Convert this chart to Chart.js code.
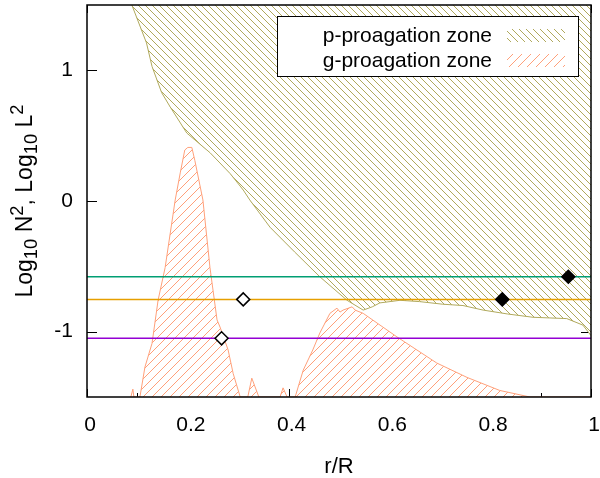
<!DOCTYPE html>
<html>
<head>
<meta charset="utf-8">
<script src="https://cdn.jsdelivr.net/npm/chart.js@4"></script>
<style>
  html, body { margin: 0; padding: 0; background: #fff; }
  #wrap { width: 600px; height: 478px; }
</style>
</head>
<body>
<div id="wrap"><canvas id="zones" width="600" height="478"></canvas></div>
<script>
// axis ticks
const xTicks = [0, 0.2, 0.4, 0.6, 0.8, 1];
const xMinorTicks = [0.1, 0.3, 0.5, 0.7, 0.9];
const yTicks = [-1, 0, 1];

// p-propagation zone boundary (region above it is filled)
const pZoneX = [0.089, 0.118, 0.129, 0.148, 0.165, 0.198, 0.244, 0.284, 0.31, 0.323, 0.363, 0.412, 0.462, 0.516, 0.548, 0.566, 0.581, 0.621, 0.66, 0.706, 0.746, 0.786, 0.835, 0.885, 0.952, 0.984, 1.0];
const pZoneY = [1.5, 1.21, 1.03, 0.83, 0.72, 0.52, 0.37, 0.21, 0.084, 0.008, -0.20, -0.39, -0.58, -0.76, -0.835, -0.81, -0.78, -0.76, -0.77, -0.79, -0.80, -0.835, -0.865, -0.89, -0.90, -0.95, -1.03];

// g-propagation zone boundary (region below it is filled)
const gZoneX = [0.087, 0.091, 0.093, 0.105, 0.115, 0.129, 0.141, 0.155, 0.175, 0.185, 0.194, 0.200, 0.208, 0.214, 0.230, 0.244, 0.258, 0.264, 0.280, 0.290, 0.304,
  0.319, 0.327, 0.341, 0.383, 0.389, 0.397,
  0.413, 0.429, 0.448, 0.462, 0.482, 0.496, 0.502, 0.508, 0.526, 0.532, 0.548, 0.615, 0.694, 0.754, 0.819, 0.879, 1.0];
const gZoneY = [-1.5, -1.44, -1.5, -1.5, -1.27, -1.09, -0.76, -0.51, 0.008, 0.215, 0.39, 0.41, 0.41, 0.31, 0.008, -0.51, -0.91, -0.965, -1.14, -1.32, -1.5,
  -1.5, -1.356, -1.5, -1.5, -1.43, -1.5,
  -1.5, -1.295, -1.14, -1.01, -0.86, -0.82, -0.85, -0.835, -0.81, -0.835, -0.86, -1.04, -1.24, -1.35, -1.45, -1.5, -1.5];

// horizontal frequency levels
const levelValues = [-0.58, -0.753, -1.051];

// mode markers
const openX = [0.267, 0.31];
const openY = [-1.051, -0.753];
const filledX = [0.824, 0.955];
const filledY = [-0.753, -0.58];

const legendLabels = ['p-proagation zone', 'g-proagation zone'];

const levelColors = ['#009e73', '#e69f00', '#9400d3'];
const pColor = '#b0a95c';
const gColor = '#ffa07a';
const FONT = '"Liberation Sans", Arial, sans-serif';

function hatch(color, size, dir) {
  const c = document.createElement('canvas');
  c.width = c.height = size;
  const g = c.getContext('2d');
  g.fillStyle = '#fff';
  g.fillRect(0, 0, size, size);
  g.strokeStyle = color;
  g.lineWidth = 1;
  g.beginPath();
  for (const o of [-size, 0, size]) {
    if (dir === 'down') { g.moveTo(o, 0); g.lineTo(o + size, size); }
    else { g.moveTo(o, size); g.lineTo(o + size, 0); }
  }
  g.stroke();
  return g.createPattern(c, 'repeat');
}

const pPattern = hatch(pColor, 7, 'down');
const gPattern = hatch(gColor, 9, 'up');

const zip = (xs, ys) => xs.map((x, i) => ({ x, y: ys[i] }));

const noPad = s => { s.paddingLeft = 0; s.paddingRight = 0; s.paddingTop = 0; s.paddingBottom = 0; };

// inward ticks on all four sides, under the fills
const tickMarks = {
  id: 'tickMarks',
  beforeDatasetsDraw(chart) {
    const { ctx, chartArea: a, scales: { x, y } } = chart;
    ctx.save();
    ctx.strokeStyle = '#000';
    ctx.lineWidth = 1;
    ctx.beginPath();
    const vt = (v, len) => {
      const px = Math.round(x.getPixelForValue(v)) + 0.5;
      ctx.moveTo(px, a.bottom); ctx.lineTo(px, a.bottom - len);
      ctx.moveTo(px, a.top); ctx.lineTo(px, a.top + len);
    };
    xTicks.forEach(v => vt(v, 8));
    xMinorTicks.forEach(v => vt(v, 4));
    yTicks.forEach(v => {
      const py = Math.round(y.getPixelForValue(v)) + 0.5;
      ctx.moveTo(a.left, py); ctx.lineTo(a.left + 10, py);
      ctx.moveTo(a.right, py); ctx.lineTo(a.right - 10, py);
    });
    ctx.stroke();
    ctx.restore();
  }
};

const frameAndLegend = {
  id: 'frameAndLegend',
  afterDatasetsDraw(chart) {
    const { ctx, chartArea: a } = chart;
    ctx.save();
    ctx.strokeStyle = '#000';
    ctx.lineWidth = 1.5;
    ctx.strokeRect(a.left, a.top, a.right - a.left, a.bottom - a.top);

    // legend box
    ctx.fillStyle = '#fff';
    ctx.fillRect(277.5, 16.5, 301, 60);
    ctx.lineWidth = 1;
    ctx.strokeRect(277.5, 16.5, 301, 60);
    ctx.font = '21px ' + FONT;
    ctx.textAlign = 'right';
    ctx.textBaseline = 'middle';
    [pPattern, gPattern].forEach((pat, i) => {
      const cy = 36 + i * 25;
      ctx.fillStyle = '#000';
      ctx.fillText(legendLabels[i], 492, cy);
      ctx.fillStyle = pat;
      ctx.fillRect(507, cy - 7, 58, 13);
    });
    ctx.restore();
  },
  afterDraw(chart) {
    // y-axis title with sub/superscripts
    const { ctx, chartArea: a } = chart;
    const size = 23;
    const runs = [
      ['Log', 1, 0], ['10', 0.8, 5], [' N', 1, 0], ['2', 0.8, -9],
      [', Log', 1, 0], ['10', 0.8, 5], [' L', 1, 0], ['2', 0.8, -9]
    ];
    ctx.save();
    ctx.fillStyle = '#000';
    ctx.textBaseline = 'alphabetic';
    let total = 0;
    runs.forEach(r => { ctx.font = (size * r[1]) + 'px ' + FONT; total += ctx.measureText(r[0]).width; });
    ctx.translate(32, (a.top + a.bottom) / 2);
    ctx.rotate(-Math.PI / 2);
    let xx = -total / 2;
    runs.forEach(r => {
      ctx.font = (size * r[1]) + 'px ' + FONT;
      ctx.fillText(r[0], xx, r[2]);
      xx += ctx.measureText(r[0]).width;
    });
    ctx.restore();
  }
};

const datasets = [
  {
    data: zip(openX, openY), pointStyle: 'rectRot', pointRadius: 6.5,
    backgroundColor: '#fff', borderColor: '#000', pointBorderWidth: 1.5, showLine: false
  },
  {
    data: zip(filledX, filledY), pointStyle: 'rectRot', pointRadius: 6.5,
    backgroundColor: '#000', borderColor: '#000', pointBorderWidth: 1.5, showLine: false
  },
  ...levelValues.map((v, i) => ({
    data: [{ x: 0, y: v }, { x: 1, y: v }], showLine: true, pointRadius: 0,
    borderColor: levelColors[i], borderWidth: 1.5, fill: false
  })),
  {
    data: zip(gZoneX, gZoneY), showLine: true, pointRadius: 0,
    borderColor: gColor, borderWidth: 1, backgroundColor: gPattern, fill: 'start'
  },
  {
    data: zip(pZoneX, pZoneY), showLine: true, pointRadius: 0,
    borderColor: pColor, borderWidth: 1, backgroundColor: pPattern, fill: 'end'
  }
];

new Chart(document.getElementById('zones'), {
  type: 'scatter',
  data: { datasets },
  plugins: [tickMarks, frameAndLegend],
  options: {
    responsive: false,
    animation: false,
    events: [],
    layout: { autoPadding: false, padding: { top: 5, right: 9, left: 0, bottom: 0 } },
    plugins: { legend: { display: false }, tooltip: { enabled: false } },
    elements: { line: { tension: 0 } },
    scales: {
      x: {
        type: 'linear', min: 0, max: 1,
        afterBuildTicks: s => { s.ticks = xTicks.map(v => ({ value: v })); },
        afterFit: s => { s.height = 81; noPad(s); },
        grid: { display: false, drawTicks: false },
        border: { display: false },
        ticks: { font: { family: FONT, size: 21 }, color: '#000', padding: 16, maxRotation: 0, labelOffset: 3, callback: v => String(v) },
        title: { display: true, text: 'r/R', color: '#000', font: { family: FONT, size: 22, lineHeight: 1 }, padding: 0 }
      },
      y: {
        type: 'linear', min: -1.5, max: 1.5,
        afterBuildTicks: s => { s.ticks = yTicks.map(v => ({ value: v })); },
        afterFit: s => { s.width = 87; noPad(s); },
        grid: { display: false, drawTicks: false },
        border: { display: false },
        ticks: { font: { family: FONT, size: 21 }, color: '#000', padding: 14, callback: v => String(v) }
      }
    }
  }
});
</script>
</body>
</html>
